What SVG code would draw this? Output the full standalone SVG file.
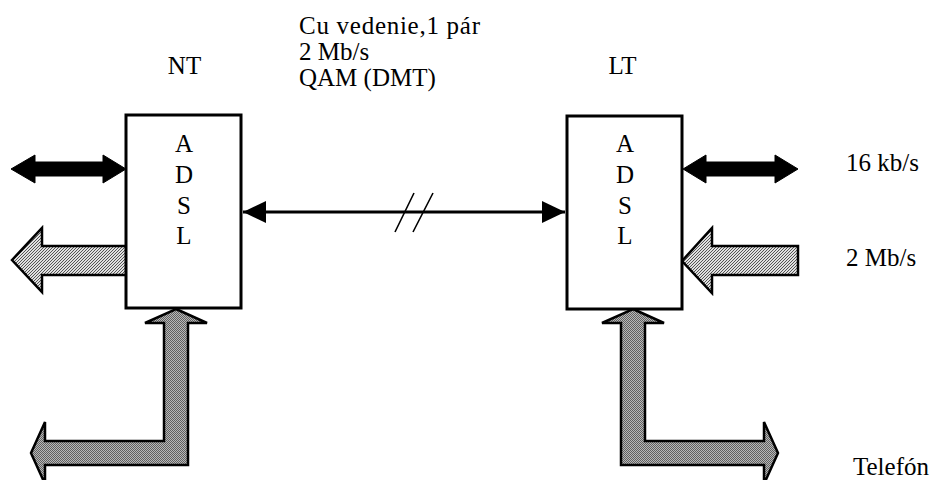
<svg xmlns="http://www.w3.org/2000/svg" width="936" height="480" viewBox="0 0 936 480">
<style>
text{font-family:"Liberation Serif","Tinos","Times New Roman","DejaVu Serif",serif;font-size:25px;fill:#000}
.box{fill:#fff;stroke:#000;stroke-width:3}
.blk{fill:#000;stroke:#000;stroke-width:1}
.hatch{fill:url(#diag);stroke:#000;stroke-width:2.5;stroke-linejoin:miter}
.chk{fill:url(#check);stroke:#000;stroke-width:2.5;stroke-linejoin:miter}
.line{stroke:#000;stroke-width:3;fill:none}
.slash{stroke:#000;stroke-width:1.6;fill:none}
</style>
<defs>
<pattern id="diag" width="3" height="3" patternUnits="userSpaceOnUse">
<rect width="3" height="3" fill="#e0e0e0"/>
<path d="M0,3 L3,0 M-1,1 L1,-1 M2,4 L4,2" stroke="#444" stroke-width="0.9"/>
</pattern>
<pattern id="check" width="2" height="2" patternUnits="userSpaceOnUse">
<rect width="2" height="2" fill="#b8b8b8"/>
<rect width="1" height="1" fill="#606060"/>
<rect x="1" y="1" width="1" height="1" fill="#606060"/>
</pattern>
<marker id="ah" markerUnits="userSpaceOnUse" markerWidth="24" markerHeight="24" refX="23" refY="11" orient="auto-start-reverse">
<path d="M0,0 L23,11 L0,22 Z" fill="#000"/>
</marker>
</defs>
<g id="connectors">
<path class="blk" d="M11,169 L35,155 L35,162 L103,162 L103,155 L126,169 L103,183 L103,176 L35,176 L35,183 Z"/>
<path class="blk" d="M683,169 L706,155 L706,162 L775,162 L775,155 L798,169 L775,183 L775,176 L706,176 L706,183 Z"/>
<path class="hatch" d="M12,260 L42,228 L42,246 L127,246 L127,275 L42,275 L42,292 Z"/>
<path class="hatch" d="M682,261 L712,228 L712,246 L798,246 L798,275 L712,275 L712,293 Z"/>
<path class="chk" d="M176,309 L207,323 L188,323 L188,465 L45,465 L45,484 L31,453 L45,422 L45,441 L164,441 L164,323 L145,323 Z"/>
<path class="chk" d="M633,309 L664,323 L645,323 L645,441 L764,441 L764,422 L778,453 L764,484 L764,465 L621,465 L621,323 L602,323 Z"/>
<line class="line" x1="243" y1="212" x2="565" y2="212" marker-start="url(#ah)" marker-end="url(#ah)"/>
<path class="slash" d="M395,232 L414,193 M413,232 L433,193"/>
</g>
<g id="nt">
<rect class="box" x="126" y="115" width="115" height="193"/>
<text x="184" y="152" text-anchor="middle">A</text>
<text x="184" y="183" text-anchor="middle">D</text>
<text x="184" y="214" text-anchor="middle">S</text>
<text x="184" y="244" text-anchor="middle">L</text>
</g>
<g id="lt">
<rect class="box" x="567" y="116" width="115" height="193"/>
<text x="625" y="152" text-anchor="middle">A</text>
<text x="625" y="183" text-anchor="middle">D</text>
<text x="625" y="214" text-anchor="middle">S</text>
<text x="625" y="244" text-anchor="middle">L</text>
</g>
<g id="labels">
<text x="184.5" y="74" text-anchor="middle">NT</text>
<text x="622.5" y="74" text-anchor="middle">LT</text>
<text x="299" y="34" textLength="181" lengthAdjust="spacing">Cu vedenie,1 pár</text>
<text x="299" y="60">2 Mb/s</text>
<text x="299" y="86">QAM (DMT)</text>
<text x="846" y="171">16 kb/s</text>
<text x="846" y="266">2 Mb/s</text>
<text x="853" y="475">Telefón</text>
</g>
</svg>
